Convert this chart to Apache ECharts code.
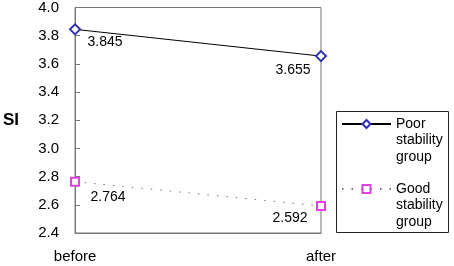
<!DOCTYPE html>
<html><head><meta charset="utf-8">
<script src="https://cdn.jsdelivr.net/npm/echarts@6/dist/echarts.min.js"></script>
<style>html,body{margin:0;padding:0;background:#fff}#c{width:454px;height:266px}</style>
</head><body><div id="c"></div>
<script>
const categories = ['before', 'after'];
const poorValues = [3.845, 3.655];
const goodValues = [2.764, 2.592];
const seriesNames = ['Poor stability group', 'Good stability group'];
const yMin = 2.4, yMax = 4.0, yStep = 0.2;

const font = 'Liberation Sans, Arial, sans-serif';
const chart = echarts.init(document.getElementById('c'), null, {renderer: 'canvas'});
const lbl = (dx, dy) => ({show: true, position: 'inside', offset: [dx, dy], color: '#000', fontSize: 14, fontFamily: font, formatter: p => p.value.toFixed(3)});

chart.setOption({
  animation: false,
  backgroundColor: '#fff',
  grid: {left: 75, right: 133, top: 7, bottom: 33, show: true, borderColor: '#777', borderWidth: 1},
  xAxis: {
    type: 'category', data: categories, boundaryGap: false,
    axisLine: {lineStyle: {color: '#777'}}, axisTick: {show: false},
    axisLabel: {color: '#000', fontSize: 15, fontFamily: font, margin: 16}
  },
  yAxis: {
    type: 'value', min: yMin, max: yMax, interval: yStep,
    name: 'SI', nameLocation: 'middle', nameRotate: 0, nameGap: 56,
    nameTextStyle: {fontWeight: 'bold', fontSize: 17, color: '#000', fontFamily: font},
    axisLine: {show: true, lineStyle: {color: '#777'}},
    axisTick: {show: true, inside: true, length: 5, lineStyle: {color: '#777'}},
    splitLine: {show: false},
    axisLabel: {color: '#000', fontSize: 15, fontFamily: font, margin: 16, formatter: v => v.toFixed(1)}
  },
  legend: {
    orient: 'vertical', left: 341, top: 82.75, padding: 0,
    itemWidth: 49, itemHeight: 10, itemGap: -17.5,
    formatter: n => '\n\n' + n.split(' ').join('\n'),
    textStyle: {fontSize: 14, lineHeight: 16.5, color: '#000', fontFamily: font},
    data: seriesNames
  },
  graphic: [{type: 'rect', shape: {x: 336.5, y: 111.5, width: 112, height: 121}, style: {fill: 'none', stroke: '#222', lineWidth: 1}, silent: true}],
  series: [
    {
      name: seriesNames[0], type: 'line', symbol: 'emptyDiamond', symbolSize: 10,
      itemStyle: {color: '#3030b0', borderWidth: 1.2},
      lineStyle: {color: '#000', width: 1},
      data: [
        {value: poorValues[0], label: lbl(30, 13)},
        {value: poorValues[1], label: lbl(-28, 14)}
      ]
    },
    {
      name: seriesNames[1], type: 'line', symbol: 'emptyRect', symbolSize: 8,
      itemStyle: {color: '#e040e0', borderWidth: 1.2},
      lineStyle: {color: '#777', width: 1, type: [1.5, 8]},
      data: [
        {value: goodValues[0], label: lbl(33, 15)},
        {value: goodValues[1], label: lbl(-31, 12)}
      ]
    }
  ]
});
</script></body></html>
